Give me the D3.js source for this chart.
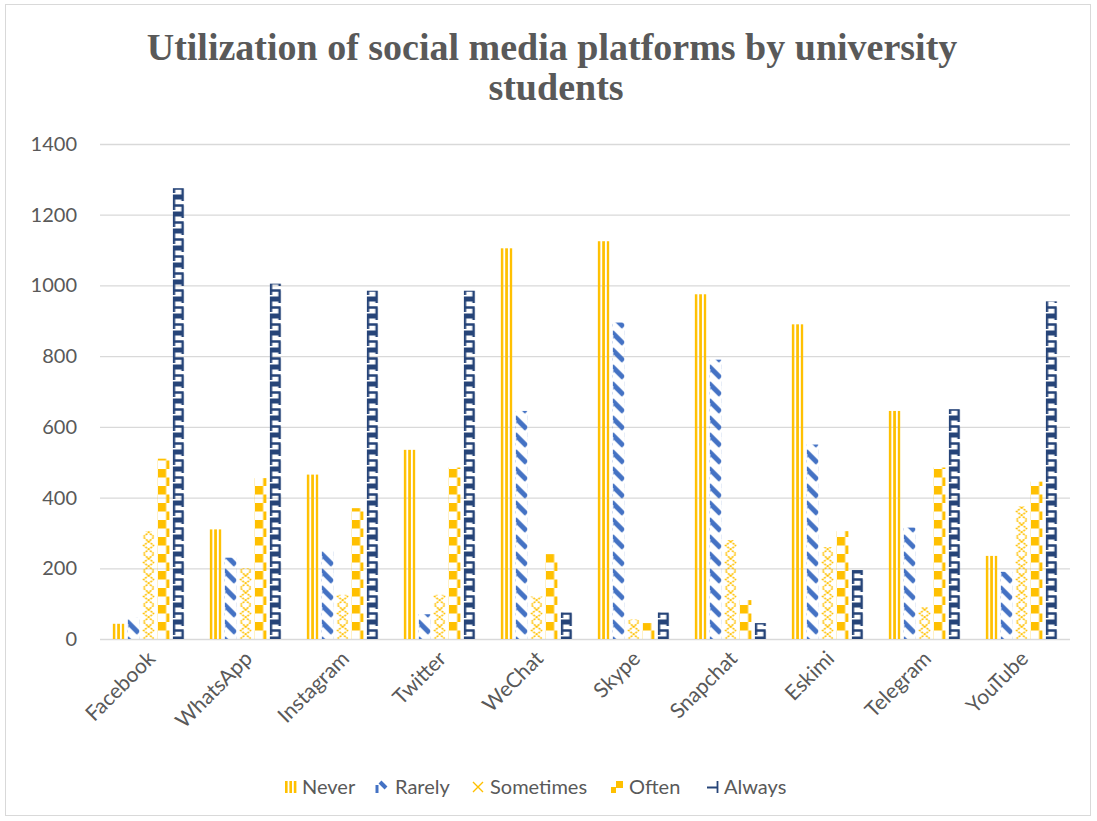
<!DOCTYPE html>
<html>
<head>
<meta charset="utf-8">
<script src="https://cdn.jsdelivr.net/npm/d3@7"></script>
<style>
  body { margin: 0; background: #fff; }
  text { font-family: Lato, "Liberation Sans", sans-serif; fill: #595959; }
</style>
</head>
<body>
<div id="chart"></div>
<script>
// categories, series and values
var platforms = ["Facebook", "WhatsApp", "Instagram", "Twitter", "WeChat", "Skype", "Snapchat", "Eskimi", "Telegram", "YouTube"];
var series = ["Never", "Rarely", "Sometimes", "Often", "Always"];
var never     = [43, 310, 465, 535, 1105, 1125, 975, 890, 645, 235];
var rarely    = [60, 230, 250, 70, 645, 895, 790, 550, 315, 190];
var sometimes = [305, 200, 125, 125, 120, 55, 280, 260, 90, 375];
var often     = [510, 455, 370, 485, 240, 45, 110, 305, 485, 445];
var always    = [1275, 1005, 985, 985, 75, 75, 45, 195, 650, 955];
var yTicks = [0, 200, 400, 600, 800, 1000, 1200, 1400];

var values = [never, rarely, sometimes, often, always];

var W = 1097, H = 821;
var svg = d3.select("#chart").append("svg")
    .attr("width", W)
    .attr("height", H);

// chart border
svg.append("rect")
    .attr("x", 5.5).attr("y", 4.5)
    .attr("width", 1085).attr("height", 811)
    .attr("fill", "#fff")
    .attr("stroke", "#d9d9d9");

var defs = svg.append("defs");

// scales
var x0 = d3.scaleBand()
    .domain(platforms)
    .range([100, 1070])
    .paddingInner(0.26)
    .paddingOuter(0.13);
var x1 = d3.scaleBand()
    .domain(series)
    .range([0, x0.bandwidth()])
    .paddingInner(0.22);
var y = d3.scaleLinear()
    .domain([0, 1400])
    .range([639, 144]);

// pattern painters, one per series (Excel-like pattern fills)
function paint(p, s) {
  if (s === "Never") {
    p.attr("width", 4.6).attr("height", 10);
    p.append("rect").attr("x", 0).attr("y", 0).attr("width", 2.7).attr("height", 10).attr("fill", "#FFC000");
  } else if (s === "Rarely") {
    p.attr("width", 12).attr("height", 17);
    p.append("path").attr("d", "M-1,-1 L11,11 M-1,16 L4,21").attr("stroke", "#4472C4").attr("stroke-width", 5).attr("fill", "none");
    p.append("path").attr("d", "M0.5,2 L0.5,17").attr("stroke", "#b4c7e7").attr("stroke-width", 1).attr("stroke-dasharray", "4,13");
  } else if (s === "Sometimes") {
    p.attr("width", 12).attr("height", 17);
    p.append("path").attr("d", "M1,0.5 L11,8.5 L1,16.5 M11,0.5 L1,8.5 L11,16.5")
      .attr("stroke", "#FFC000").attr("stroke-width", 1.6).attr("fill", "none")
      .attr("stroke-dasharray", "2,1");
  } else if (s === "Often") {
    p.attr("width", 17).attr("height", 17);
    p.append("rect").attr("x", 0).attr("y", 0).attr("width", 8.5).attr("height", 8.5).attr("fill", "#FFC000");
    p.append("rect").attr("x", 8.5).attr("y", 8.5).attr("width", 8.5).attr("height", 8.5).attr("fill", "#FFC000");
  } else {
    p.attr("width", 24).attr("height", 17);
    p.append("path")
      .attr("d", "M1.2,0 L1.2,8.5 M0,1.2 L11,1.2 M10,0 L10,4 M0,8.5 L11,8.5 M1.2,8.5 L1.2,13 M10,8.5 L10,17 M0,15.8 L11,15.8")
      .attr("stroke", "#264478").attr("stroke-width", 2.6).attr("fill", "none");
  }
}

// flatten to bars
var bars = [];
platforms.forEach(function(c, i) {
  series.forEach(function(s, j) {
    bars.push({ cat: c, s: s, v: values[j][i], id: "p" + i + "_" + j });
  });
});

// a pattern per bar, anchored on the bar
bars.forEach(function(d) {
  var p = defs.append("pattern")
      .attr("id", d.id)
      .attr("patternUnits", "userSpaceOnUse")
      .attr("x", x0(d.cat) + x1(d.s))
      .attr("y", y(0));
  paint(p, d.s);
});

// gridlines
svg.append("g").selectAll("line")
    .data(yTicks)
    .enter().append("line")
    .attr("x1", 100).attr("x2", 1070)
    .attr("y1", d => y(d) + 0.5).attr("y2", d => y(d) + 0.5)
    .attr("stroke", "#d9d9d9").attr("stroke-width", 1.3);

// y tick labels
svg.append("g").selectAll("text")
    .data(yTicks)
    .enter().append("text")
    .attr("x", 77)
    .attr("y", d => y(d) + 7)
    .attr("text-anchor", "end")
    .attr("font-size", 20)
    .text(d => d);

// bars
svg.append("g").selectAll("rect")
    .data(bars)
    .enter().append("rect")
    .attr("x", d => x0(d.cat) + x1(d.s))
    .attr("y", d => y(d.v))
    .attr("width", x1.bandwidth())
    .attr("height", d => y(0) - y(d.v))
    .attr("fill", d => "url(#" + d.id + ")");

// category labels
svg.append("g").selectAll("text")
    .data(platforms)
    .enter().append("text")
    .attr("text-anchor", "end")
    .attr("font-size", 21)
    .attr("transform", d => "translate(" + (x0(d) + x0.bandwidth() / 2 + 8) + ",660) rotate(-45)")
    .text(d => d);

// title
svg.append("text")
    .attr("x", 552).attr("y", 60)
    .attr("text-anchor", "middle")
    .style("font-family", "'Liberation Serif', 'Times New Roman', serif")
    .style("font-weight", "bold")
    .attr("font-size", 38)
    .text("Utilization of social media platforms by university");
svg.append("text")
    .attr("x", 556).attr("y", 100)
    .attr("text-anchor", "middle")
    .style("font-family", "'Liberation Serif', 'Times New Roman', serif")
    .style("font-weight", "bold")
    .attr("font-size", 38)
    .text("students");

// legend
var legendX = [285, 376, 472, 611, 707];
var legendTextX = [302, 395, 490, 629, 724];
var legendMarks = {
  Never: [["rect", 0, 0, 2.6, 12], ["rect", 4.4, 0, 2.6, 12], ["rect", 8.8, 0, 2.6, 12]],
  Rarely: [["path", "M1,4 L1,12", 3], ["path", "M4,1 L10,7", 4]],
  Sometimes: [["path", "M1,1 L11,11 M11,1 L1,11", 1.4]],
  Often: [["rect", 5, 0, 7, 7], ["rect", 0, 6, 5, 6]],
  Always: [["path", "M0,6.5 L11,6.5 M10.5,0 L10.5,12", 1.8]]
};
var legColor = { Never: "#FFC000", Rarely: "#4472C4", Sometimes: "#FFC000", Often: "#FFC000", Always: "#264478" };
var leg = svg.append("g").selectAll("g")
    .data(series)
    .enter().append("g")
    .attr("transform", (d, i) => "translate(" + legendX[i] + ",781)");
leg.each(function(s) {
  var g = d3.select(this);
  legendMarks[s].forEach(function(m) {
    if (m[0] === "rect") {
      g.append("rect").attr("x", m[1]).attr("y", m[2]).attr("width", m[3]).attr("height", m[4]).attr("fill", legColor[s]);
    } else {
      g.append("path").attr("d", m[1]).attr("stroke", legColor[s]).attr("stroke-width", m[2]).attr("fill", "none");
    }
  });
});
leg.append("text")
    .attr("x", (d, i) => legendTextX[i] - legendX[i]).attr("y", 13)
    .attr("font-size", 20)
    .text(d => d);
</script>
</body>
</html>
